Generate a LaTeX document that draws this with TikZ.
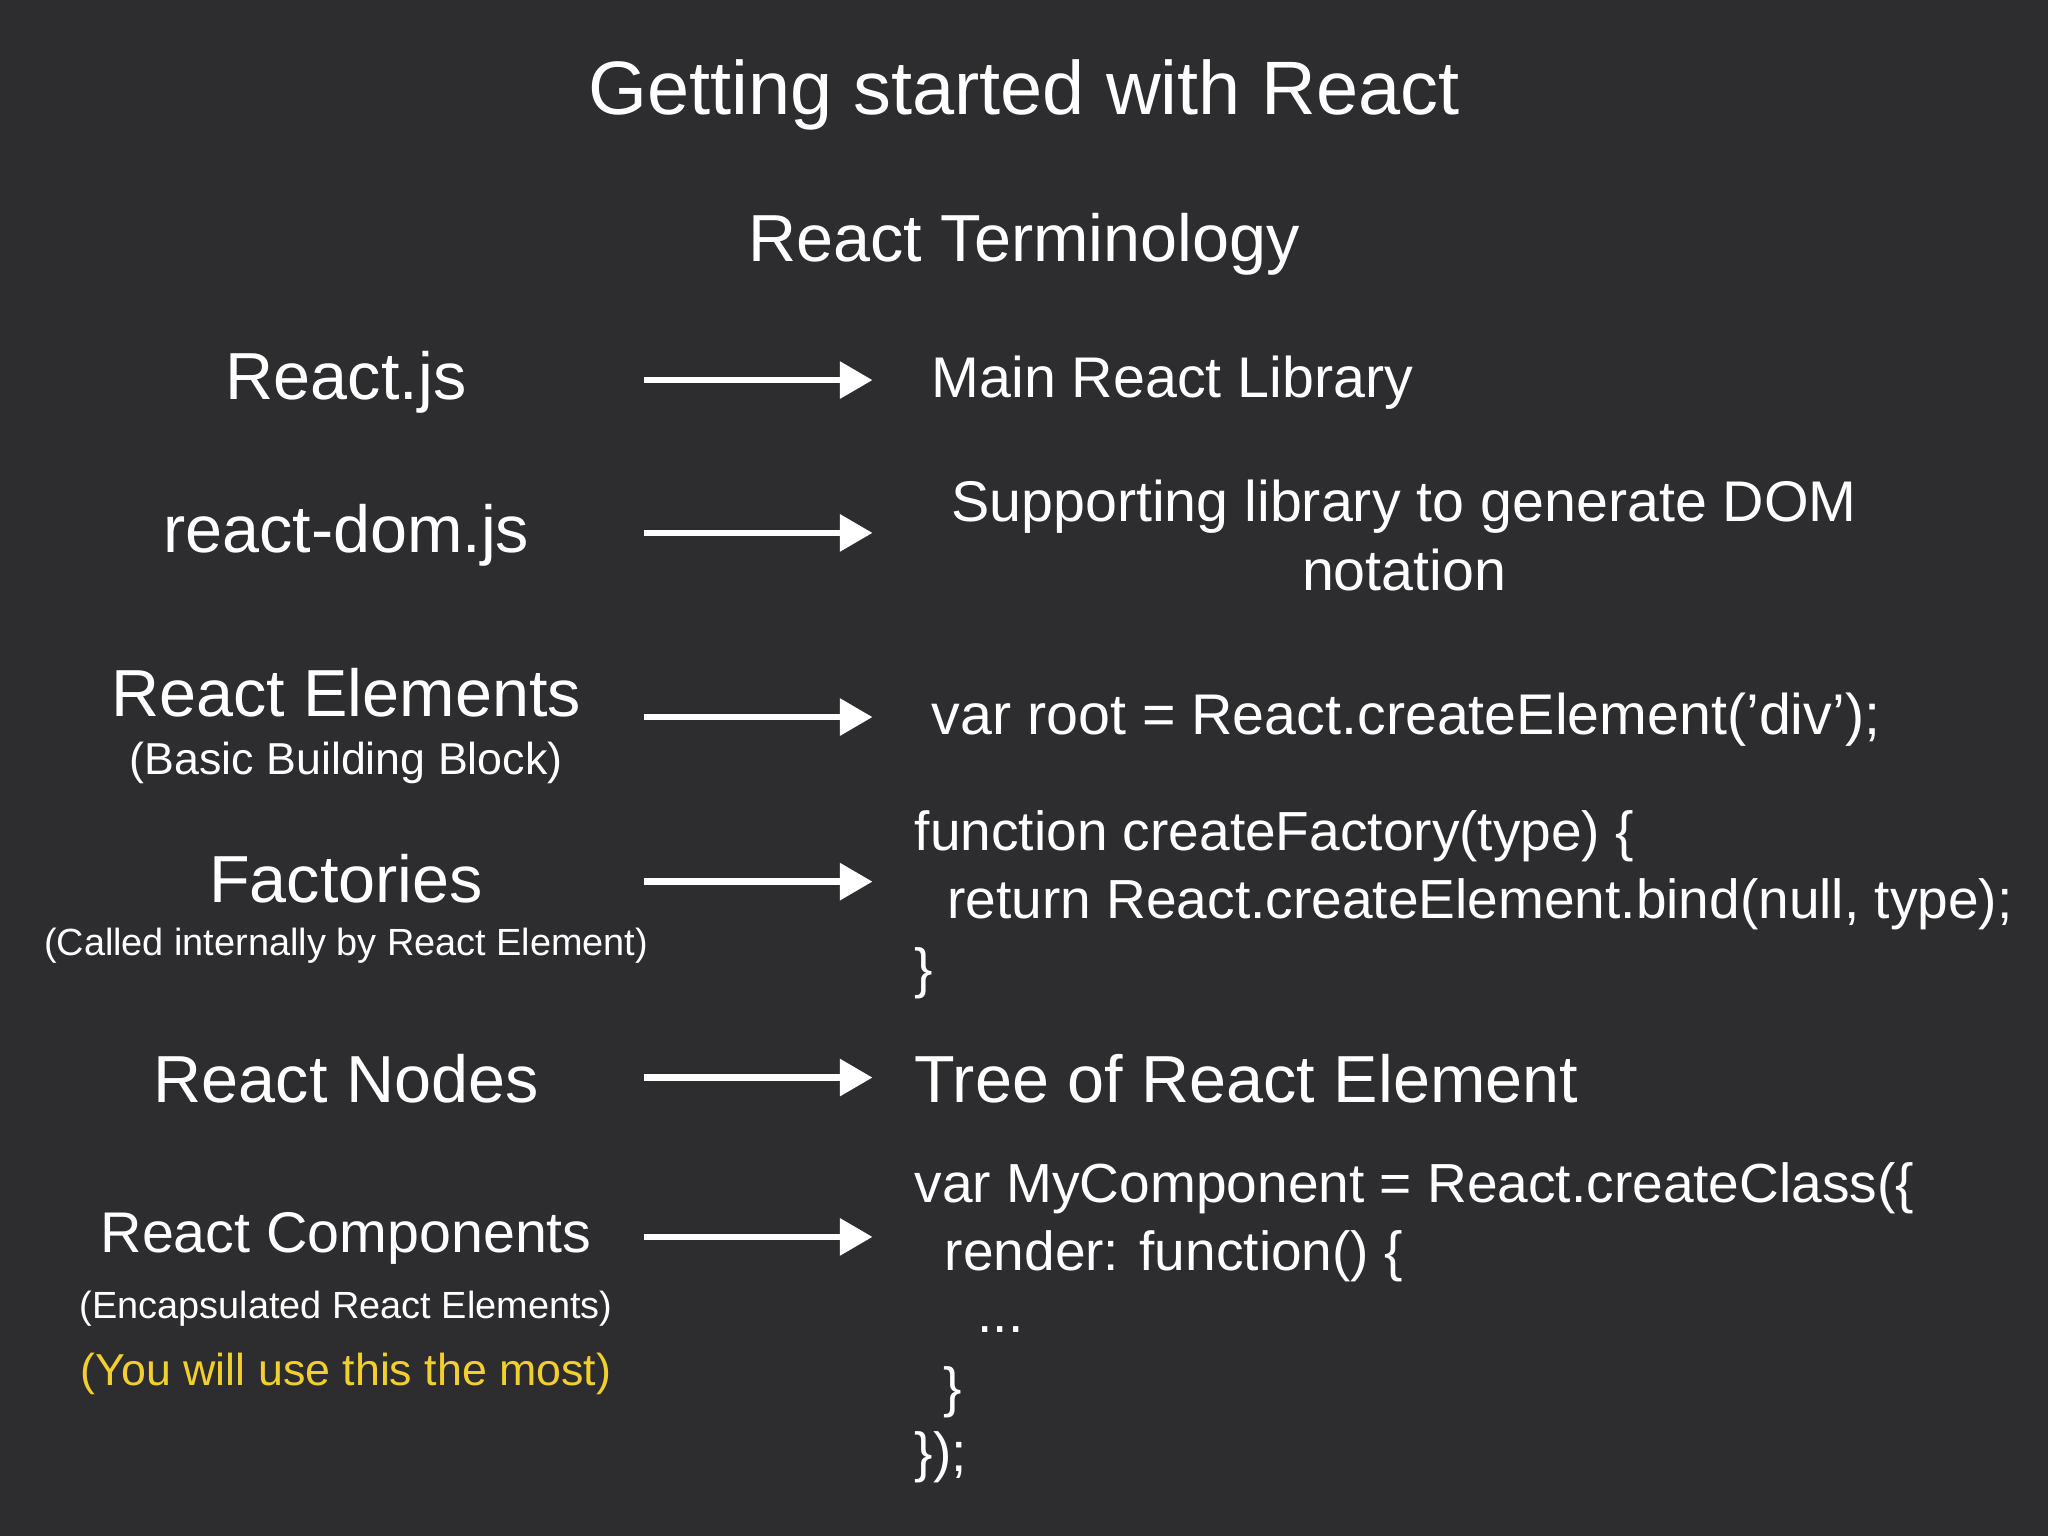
\documentclass[tikz,border=0pt]{standalone}
\usepackage{fontspec}
\setmainfont{Liberation Sans}
\usetikzlibrary{arrows.meta}
\definecolor{bg}{HTML}{2D2D2F}
\definecolor{ylw}{HTML}{F2CF2E}
\begin{document}
\begin{tikzpicture}[x=0.02cm,y=-0.02cm,
  txt/.style={text=white,inner sep=0pt},
  big/.style={txt,font=\fontsize{29}{34}\selectfont},
  mid/.style={txt,font=\fontsize{25}{30}\selectfont},
  sub/.style={txt,font=\fontsize{19.5}{23}\selectfont},
  tiny/.style={txt,font=\fontsize{16.5}{20}\selectfont},
  code/.style={txt,anchor=west,font=\fontsize{24}{28}\selectfont},
  arr/.style={white,line width=0.1cm,-{Triangle[length=0.5cm,width=0.55cm]}}]
\fill[bg] (0,0) rectangle (1568,1176);
\useasboundingbox (0,0) rectangle (1568,1176);
\node[txt,font=\fontsize{33}{38}\selectfont] (title) at (784,73) {Getting started with React};
\node[txt,font=\fontsize{29}{34}\selectfont] (term) at (784,187) {React Terminology};
% left column
\node[big] (l1) at (265,293) {React.js};
\node[big] (l2) at (265,410) {react-dom.js};
\node[big] (l3) at (265,530) {React Elements};
\node[sub] (l3s) at (265,584) {(Basic Building Block)};
\node[big] (l4) at (265,673) {Factories};
\node[tiny] (l4s) at (265,724) {(Called internally by React Element)};
\node[big] (l5) at (265,826) {React Nodes};
\node[mid] (l6) at (265,948) {React Components};
\node[tiny] (l6s) at (265,1002) {(Encapsulated React Elements)};
\node[sub,text=ylw] (l6y) at (265,1052) {(You will use this the most)};
% arrows
\foreach \i/\y in {1/291,2/408,3/549,4/675,5/825,6/947}{
  \coordinate (s\i) at (493,\y); \coordinate (e\i) at (668,\y);
  \draw[arr] (s\i) -- (e\i);}
% right column
\node[mid,anchor=west] (r1) at (713,293) {Main React Library};
\node[mid,align=center] (r2) at (1075,410) {Supporting library to generate DOM\\notation};
\node[mid,anchor=west] (r3) at (713,551) {var root = React.createElement('div');};
\node[code] (c1) at (700,640) {function createFactory(type) \{};
\node[code] (c2) at (725,692) {return React.createElement.bind(null, type);};
\node[code] (c3) at (700,745) {\}};
\node[txt,anchor=west,font=\fontsize{29}{34}\selectfont] (r5) at (700,826) {Tree of React Element};
\node[code] (d1) at (700,910) {var MyComponent = React.createClass(\{};
\node[code] (d2) at (723,962) {render: function() \{};
\node[code] (d3) at (748,1018) {...};
\node[code] (d4) at (722,1066) {\}};
\node[code] (d5) at (700,1116) {\});};
\end{tikzpicture}
\end{document}
